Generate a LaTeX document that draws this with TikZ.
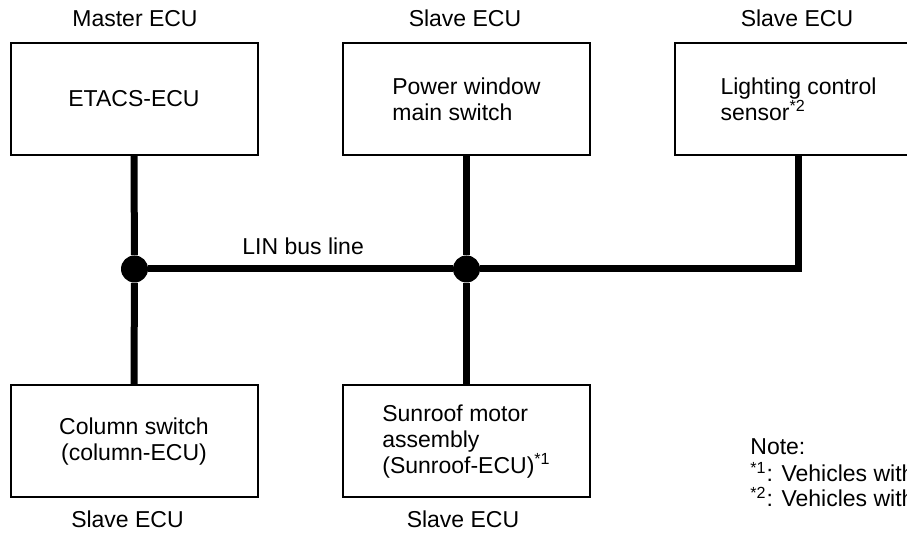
\documentclass[tikz,border=0pt]{standalone}
\usepackage{fontspec}
\setmainfont{Liberation Sans}

\tikzset{
  ecubox/.style={draw, line width=1pt, minimum width=123.5pt, minimum height=56pt,
    inner sep=0pt, font=\fontsize{11.5}{13}\selectfont},
  caption/.style={inner sep=0pt, font=\fontsize{11.5}{13}\selectfont},
  busline/.style={line width=3.5pt},
  junction/.style={circle, fill, inner sep=0pt, minimum size=13.5pt},
}

\begin{document}
\begin{tikzpicture}[x=0.5pt,y=-0.5pt]
\useasboundingbox (0,0) rectangle (907,533);
\clip (0,0) rectangle (907,533);
% ECU boxes
\node[ecubox] (etacs) at (134,99) {ETACS-ECU};
\node[ecubox, align=left] (pwswitch) at (466.5,99) {Power window\\main switch};
\node[ecubox, align=left] (lightsensor) at (798.5,99) {Lighting control\\sensor\textsuperscript{*2}};
\node[ecubox, align=center] (column) at (134,441.5) {Column switch\\(column-ECU)};
\node[ecubox, align=left] (sunroof) at (466.5,441.5) {Sunroof motor\\assembly\\(Sunroof-ECU)\textsuperscript{*1}};
% role labels
\node[caption, anchor=base] (mastertag) at (135,27) {Master ECU};
\node[caption, anchor=base] (pwtag) at (465,27) {Slave ECU};
\node[caption, anchor=base] (lighttag) at (797,27) {Slave ECU};
\node[caption, anchor=base] (columntag) at (127.5,528) {Slave ECU};
\node[caption, anchor=base] (sunrooftag) at (463,528) {Slave ECU};
% LIN bus
\node[junction] (j1) at (134.5,269) {};
\node[junction] (j2) at (466.5,269) {};
\draw[busline] (etacs.south) -- (j1) -- (column.north);
\draw[busline] (pwswitch.south) -- (j2) -- (sunroof.north);
\draw[busline] (j1) -- (j2) -| (lightsensor.south);
\node[caption, anchor=base west] (buslabel) at (242,255) {LIN bus line};
% notes
\node[caption, anchor=base west] (note) at (750,455) {Note:};
\node[caption, anchor=base west] (note1) at (750,482) {\textsuperscript{*1}: Vehicles with};
\node[caption, anchor=base west] (note2) at (750,507) {\textsuperscript{*2}: Vehicles with};
\end{tikzpicture}
\end{document}
